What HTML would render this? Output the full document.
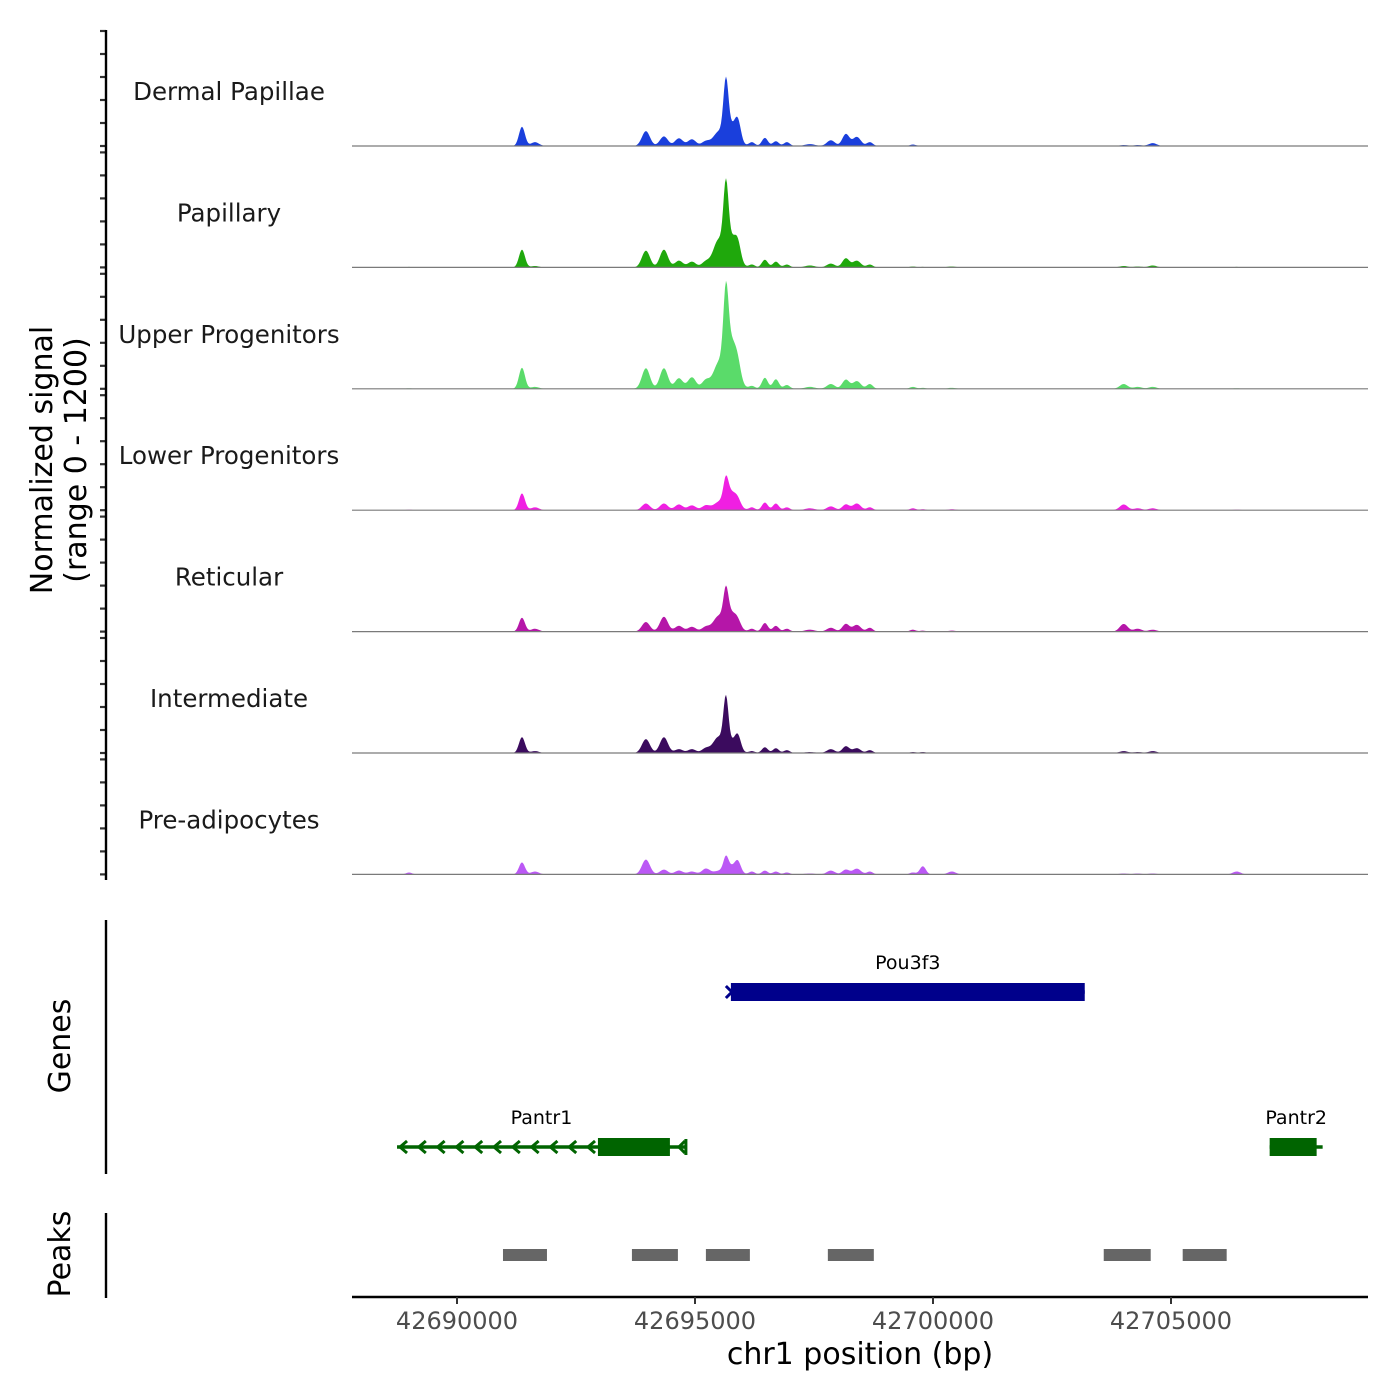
<!DOCTYPE html>
<html><head><meta charset="utf-8">
<style>
html,body{margin:0;padding:0;background:#fff;}
svg{display:block;}
text{font-family:"DejaVu Sans","Liberation Sans",sans-serif;}
</style></head>
<body>
<svg id="chart" width="1400" height="1400" viewBox="0 0 1400 1400" xmlns="http://www.w3.org/2000/svg">
<g id="signal"></g>
<g id="genes"></g>
<g id="peaks"></g>
<g id="axes"></g>
<text transform="translate(52,460) rotate(-90)" text-anchor="middle" font-size="30" fill="#000">Normalized signal</text>
<text transform="translate(86,460) rotate(-90)" text-anchor="middle" font-size="30" fill="#000">(range 0 - 1200)</text>
<text transform="translate(70,1046) rotate(-90)" text-anchor="middle" font-size="30" fill="#000">Genes</text>
<text transform="translate(70,1254) rotate(-90)" text-anchor="middle" font-size="30" fill="#000">Peaks</text>
<text x="860" y="1364" text-anchor="middle" font-size="30" fill="#000">chr1 position (bp)</text>
</svg>
<script>
const trackNames = ["Dermal Papillae","Papillary","Upper Progenitors","Lower Progenitors","Reticular","Intermediate","Pre-adipocytes"];
const trackColors = ["#1a3fdc","#1fa80c","#5adb6a","#f01fe2","#b516a8","#3b0b5e","#bb58f5"];
const peakCenters = [42688992,42691365,42691638,42693969,42694347,42694662,42694935,42695229,42695481,42695649,42695754,42695901,42696195,42696468,42696699,42696930,42697413,42697854,42698169,42698400,42698673,42699576,42699786,42700395,42704007,42704301,42704616,42706380];
const peakWidths = [63,63,84,84,84,84,84,84,105,52,126,63,63,63,63,63,105,84,74,84,63,63,63,84,84,84,84,84];
const signalDermal = [5,200,40,155,100,80,70,50,130,540,210,190,40,85,50,40,20,60,125,95,40,15,5,5,10,10,30,5];
const signalPapillary = [5,185,15,175,185,70,60,60,260,640,310,150,30,80,60,30,20,40,95,70,30,10,5,10,15,10,20,5];
const signalUpper = [5,220,20,215,215,110,120,90,230,700,510,100,30,115,100,40,20,50,95,80,50,20,10,10,50,20,20,5];
const signalLower = [5,175,30,70,70,60,50,50,70,210,190,50,30,80,70,30,20,40,60,70,30,20,10,10,60,20,20,5];
const signalReticular = [5,145,30,100,155,60,50,50,145,300,200,50,30,90,60,30,20,40,80,70,40,20,10,10,80,30,20,5];
const signalIntermediate = [5,165,20,145,165,40,40,50,155,480,120,140,20,60,50,30,10,40,70,50,30,10,10,5,20,10,20,5];
const signalPreadipo = [20,125,30,155,50,40,30,60,30,130,85,105,30,40,30,20,10,40,50,60,30,20,85,30,10,10,10,30];
const trackSignals = [signalDermal,signalPapillary,signalUpper,signalLower,signalReticular,signalIntermediate,signalPreadipo];
const xTicks = [42690000,42695000,42700000,42705000];
const geneNames = ["Pou3f3","Pantr1","Pantr2"];
const geneStarts = [42695754,42688740,42707073];
const geneEnds = [42703188,42694809,42708186];
const exonStarts = [42695754,42692961,42707073];
const exonEnds = [42703188,42694473,42708060];
const geneStrands = ["+","-","+"];
const peakStarts = [42690966,42693675,42695229,42697791,42703587,42705246];
const peakEnds = [42691890,42694641,42696153,42698757,42704574,42706170];

const NS="http://www.w3.org/2000/svg";
const X0=352, X1=1368, BP0=42687794, BP1=42709139;
function xs(bp){return X0+(bp-BP0)/(BP1-BP0)*(X1-X0);}
const trackTop0=31, trackStep=121.4, trackH=115, YMAX=1200;
function ys(v,i){const base=trackTop0+i*trackStep+trackH;return base-v/YMAX*trackH;}
function mk(tag,attrs,parent){const e=document.createElementNS(NS,tag);for(const k in attrs)e.setAttribute(k,attrs[k]);parent.appendChild(e);return e;}

const gS=document.getElementById('signal');
const gA=document.getElementById('axes');
for(let i=0;i<trackNames.length;i++){
  const vals=trackSignals[i];
  let d="M"+X0+","+ys(0,i).toFixed(2);
  for(let px=X0;px<=X1;px+=1){
    const bp=BP0+(px-X0)/(X1-X0)*(BP1-BP0);
    let v=0;
    for(let k=0;k<peakCenters.length;k++){const z=(bp-peakCenters[k])/peakWidths[k];v+=vals[k]*Math.exp(-0.5*z*z);}
    d+="L"+px+","+ys(v,i).toFixed(2);
  }
  d+="L"+X1+","+ys(0,i).toFixed(2)+"Z";
  const p=mk('path',{d:d,fill:trackColors[i],stroke:'none'},gS);
  
  
  const bl=mk('line',{x1:X0,x2:X1,y1:ys(0,i),y2:ys(0,i),stroke:'#7a7a7a','stroke-width':1.2},gS);
  
  
  const t=mk('text',{x:229,y:ys(0,i)-46,'text-anchor':'middle','font-size':24.5,fill:'#1a1a1a'},gS);
  t.textContent=trackNames[i];
  
  
  for(let v=0;v<=YMAX;v+=240){
    const tk=mk('line',{x1:100,x2:106,y1:ys(v,i),y2:ys(v,i),stroke:'#333','stroke-width':2.2},gA);
    
    
  }
}
let ax=mk('line',{x1:106,x2:106,y1:30,y2:880,stroke:'#000','stroke-width':2.4},gA);


ax=mk('line',{x1:106,x2:106,y1:920,y2:1174,stroke:'#000','stroke-width':2.4},gA);


ax=mk('line',{x1:106,x2:106,y1:1213,y2:1298,stroke:'#000','stroke-width':2.4},gA);


ax=mk('line',{x1:X0,x2:X1,y1:1297,y2:1297,stroke:'#000','stroke-width':2.6},gA);


for(const t of xTicks){
  const l=mk('line',{x1:xs(t),x2:xs(t),y1:1297,y2:1304,stroke:'#333','stroke-width':2},gA);
  
  
  const tx=mk('text',{x:xs(t),y:1329,'text-anchor':'middle','font-size':24,fill:'#4d4d4d'},gA);
  tx.textContent=String(t);
  
  
}

const gG=document.getElementById('genes');
const geneY=[992,1147,1147];
const geneColors=["#00008b","#006400","#006400"];
for(let g=0;g<geneNames.length;g++){
  const y=geneY[g], c=geneColors[g];
  const ln=mk('line',{x1:xs(geneStarts[g]),x2:xs(geneEnds[g]),y1:y,y2:y,stroke:c,'stroke-width':3.5},gG);
  
  
  const ex=mk('rect',{x:xs(exonStarts[g]),y:y-9,width:xs(exonEnds[g])-xs(exonStarts[g]),height:18,fill:c},gG);
  
  
  if(geneStrands[g]==="-"){
    for(let px=xs(geneStarts[g])+3;px<xs(exonStarts[g]);px+=18.8){
      const a=mk('path',{d:`M${px+7},${y-6}L${px},${y}L${px+7},${y+6}`,stroke:c,'stroke-width':3,fill:'none'},gG);
      
      
    }
    const e2=xs(geneEnds[g]);
    const a=mk('path',{d:`M${e2-1},${y-6}L${e2-7},${y}L${e2-1},${y+6}`,stroke:c,'stroke-width':3,fill:'none'},gG);
    
    
    const tk=mk('line',{x1:e2,x2:e2,y1:y-8,y2:y+8,stroke:c,'stroke-width':3},gG);
    
    
  } else if(g===0){
    const s=xs(geneStarts[g]);
    const a=mk('path',{d:`M${s-5},${y-6}L${s+1},${y}L${s-5},${y+6}`,stroke:c,'stroke-width':3,fill:'none'},gG);
    
    
  }
  const tx=mk('text',{x:(xs(geneStarts[g])+xs(geneEnds[g]))/2,y:y-23,'text-anchor':'middle','font-size':19,fill:'#000'},gG);
  tx.textContent=geneNames[g];
  
  
}

const gP=document.getElementById('peaks');
for(let k=0;k<peakStarts.length;k++){
  const r=mk('rect',{x:xs(peakStarts[k]),y:1249,width:xs(peakEnds[k])-xs(peakStarts[k]),height:12,fill:'#666666'},gP);
  
  
}
</script>
</body></html>
